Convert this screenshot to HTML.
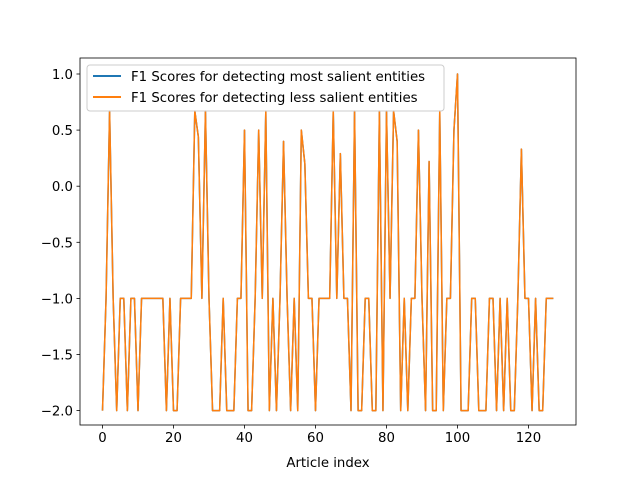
<!DOCTYPE html>
<html><head><meta charset="utf-8"><style>
body{margin:0;background:#fff}
svg text{font-family:"DejaVu Sans","Liberation Sans",sans-serif;font-size:13.3px;fill:#000}
</style></head><body>
<svg id="chart" width="640" height="480" xmlns="http://www.w3.org/2000/svg">
<rect width="640" height="480" fill="#fff"/>
<g id="series"></g>
<g id="axes"></g>
<g id="legend">
  <rect x="87" y="65" width="357" height="46" rx="3" fill="#fff" fill-opacity="0.8" stroke="#ccc" stroke-width="1"/>
  <g>
    <line x1="93" y1="76" x2="121" y2="76" stroke="#1f77b4" stroke-width="2"/>
    <text x="131" y="81">F1 Scores for detecting most salient entities</text>
  </g>
  <g>
    <line x1="93" y1="97" x2="121" y2="97" stroke="#ff7f0e" stroke-width="2"/>
    <text x="131" y="102">F1 Scores for detecting less salient entities</text>
  </g>
</g>
<text x="328" y="467" text-anchor="middle">Article index</text>
</svg>
<script>
const mostSalient = [-2,-1,0.67,-1,-2,-1,-1,-2,-1,-1,-2,-1,-1,-1,-1,-1,-1,-1,-2,-1,-2,-2,-1,-1,-1,-1,0.67,0.44,-1,0.67,-1,-2,-2,-2,-1,-2,-2,-2,-1,-1,0.5,-2,-2,-1,0.5,-1,0.67,-2,-1,-2,-1,0.4,-1,-2,-1,-2,0.5,0.2,-1,-1,-2,-1,-1,-1,-1,0.67,-1,0.29,-1,-1,-2,0.67,-2,-2,-1,-1,-2,-2,0.67,-2,0.67,-1,0.67,0.4,-2,-1,-2,-1,-1,0.5,-1,-2,0.22,-2,-2,0.67,-2,-1,-1,0.5,1,-2,-2,-2,-1,-1,-2,-2,-2,-1,-1,-2,-1,-2,-1,-2,-2,-1,0.33,-1,-1,-2,-1,-2,-2,-1,-1,-1];
const lessSalient = mostSalient.slice();
const xTicks = [0,20,40,60,80,100,120];
const yTicks = [1.0,0.5,0.0,-0.5,-1.0,-1.5,-2.0];
const yTickLabels = ["1.0","0.5","0.0","−0.5","−1.0","−1.5","−2.0"];

const L=80,R=576,T=58,B=425;
function xs(i){return 102.5+i*3.55;}
function ys(v){return 74+(1-v)*112.2;}
const NS="http://www.w3.org/2000/svg";
function mk(tag,attrs,parent){const e=document.createElementNS(NS,tag);for(const k in attrs)e.setAttribute(k,attrs[k]);parent.appendChild(e);return e;}

const series=document.getElementById('series');
function drawLine(vals,color,name){
  const p=mk('polyline',{points:vals.map((v,i)=>xs(i).toFixed(2)+','+ys(v).toFixed(2)).join(' '),fill:'none',stroke:color,'stroke-width':1.5,'stroke-linejoin':'round'},series);
  
  
}
drawLine(mostSalient,'#1f77b4','line-most-salient');
drawLine(lessSalient,'#ff7f0e','line-less-salient');

const axes=document.getElementById('axes');
const frame=mk('rect',{x:L,y:T,width:R-L,height:B-T,fill:'none',stroke:'#000','stroke-width':0.8},axes);


xTicks.forEach(t=>{
  const x=xs(t);
  mk('line',{x1:x,y1:B,x2:x,y2:B+3.5,stroke:'#000','stroke-width':0.8},axes);
  const tx=mk('text',{x:x,y:B+17,'text-anchor':'middle'},axes);
  tx.textContent=String(t);
  
  
});
yTicks.forEach((t,k)=>{
  const y=ys(t);
  mk('line',{x1:L,y1:y,x2:L-3.5,y2:y,stroke:'#000','stroke-width':0.8},axes);
  const tx=mk('text',{x:L-7,y:y+5,'text-anchor':'end'},axes);
  tx.textContent=yTickLabels[k];
  
  
});
</script>
</body></html>
